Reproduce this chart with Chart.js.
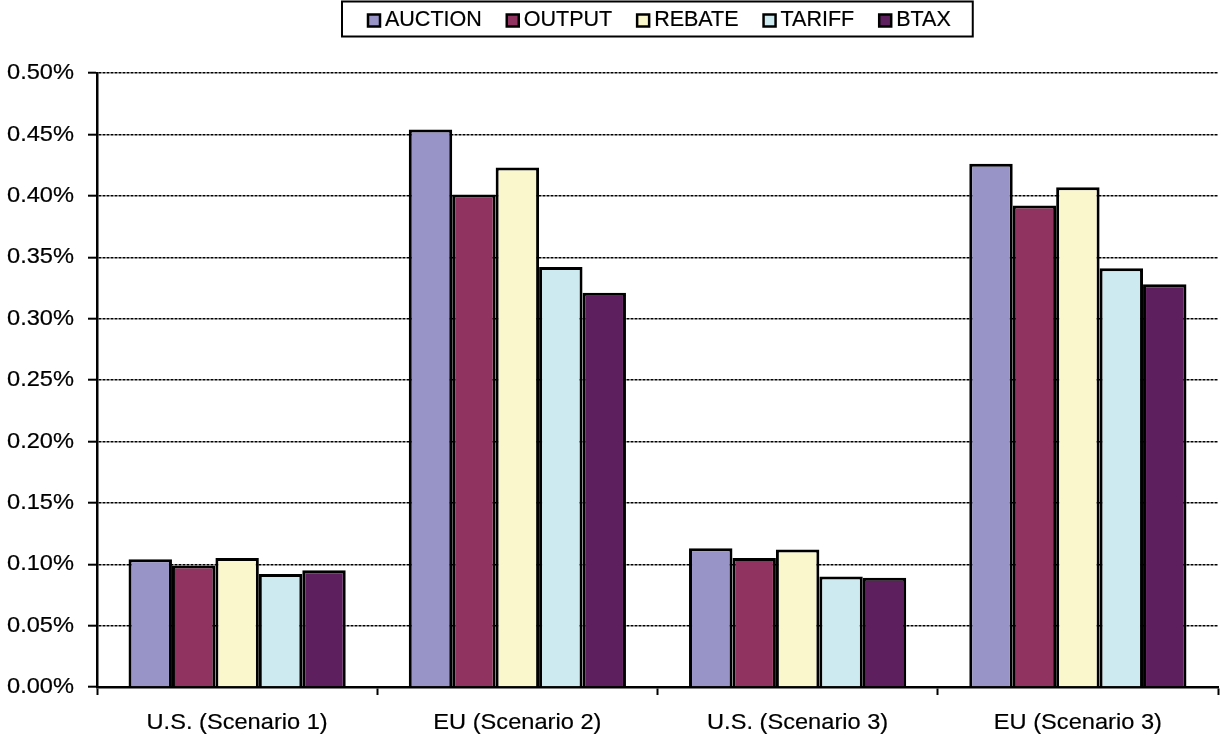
<!DOCTYPE html>
<html>
<head>
<meta charset="utf-8">
<script src="https://cdn.jsdelivr.net/npm/chart.js@4"></script>
<style>
  html, body { margin: 0; padding: 0; background: #fff; }
  #wrap { width: 1221px; height: 735px; position: relative; }
</style>
</head>
<body>
<div id="wrap"><canvas id="c" width="1221" height="735"></canvas></div>
<script>
const categories = ['U.S. (Scenario 1)', 'EU (Scenario 2)', 'U.S. (Scenario 3)', 'EU (Scenario 3)'];
const seriesNames = ['AUCTION', 'OUTPUT', 'REBATE', 'TARIFF', 'BTAX'];
const auction = [0.104, 0.454, 0.113, 0.426];
const output  = [0.099, 0.401, 0.105, 0.392];
const rebate  = [0.105, 0.423, 0.112, 0.407];
const tariff  = [0.092, 0.342, 0.090, 0.341];
const btax    = [0.095, 0.321, 0.089, 0.328];
const colors  = ['#9894C8', '#913360', '#FAF7CC', '#CDEAF0', '#5E1F5E'];
const yTickMin = 0, yTickMax = 0.5, yTickStep = 0.05;

const seriesValues = [auction, output, rebate, tariff, btax];
const FONT = '"Liberation Sans", Arial, sans-serif';
const AXIS_STRETCH = 1.05;

// Slightly wide text like the reference rendering
const canvas = document.getElementById('c');
const ctx0 = canvas.getContext('2d');
const origFill = ctx0.fillText.bind(ctx0);
const origStroke = ctx0.strokeText.bind(ctx0);
const origMeasure = ctx0.measureText.bind(ctx0);
let stretch = AXIS_STRETCH;
ctx0.fillText = function (t, x, y, mw) {
  this.save();
  this.translate(x, y);
  if (stretch !== 1) this.scale(stretch, 1);
  origFill(t, 0, 0);
  this.strokeStyle = this.fillStyle;
  this.lineWidth = 0.2;
  this.setLineDash([]);
  origStroke(t, 0, 0);
  this.restore();
};
ctx0.measureText = function (t) {
  const m = origMeasure(t);
  if (stretch === 1) return m;
  return {
    width: m.width * stretch,
    actualBoundingBoxAscent: m.actualBoundingBoxAscent,
    actualBoundingBoxDescent: m.actualBoundingBoxDescent,
    actualBoundingBoxLeft: m.actualBoundingBoxLeft * stretch,
    actualBoundingBoxRight: m.actualBoundingBoxRight * stretch
  };
};

const legendPlugin = {
  id: 'boxLegend',
  beforeUpdate() { stretch = AXIS_STRETCH; },
  beforeDraw() { stretch = AXIS_STRETCH; },
  afterDraw(chart) {
    const ctx = chart.ctx;
    stretch = 1;
    ctx.save();
    ctx.font = '21.5px ' + FONT;
    const marker = 12, gap = 5, itemGap = 25, padL = 26, padR = 22;
    const items = chart.data.datasets.map(ds => ({
      label: ds.label, color: ds.backgroundColor, w: ctx.measureText(ds.label).width
    }));
    let total = padL + padR;
    items.forEach((it, i) => { total += marker + gap + it.w + (i < items.length - 1 ? itemGap : 0); });
    const ca = chart.chartArea;
    const cx = (ca.left + ca.right) / 2;
    const bx = Math.round(cx - total / 2), by = 1.5, bh = 35;
    ctx.fillStyle = '#fff';
    ctx.fillRect(bx, by, total, bh);
    ctx.lineWidth = 2;
    ctx.strokeStyle = '#000';
    ctx.strokeRect(bx, by, total, bh);
    let x = bx + padL;
    const cy = by + bh / 2 + 1.5;
    items.forEach(it => {
      ctx.fillStyle = it.color;
      ctx.fillRect(x, cy - marker / 2, marker, marker);
      ctx.lineWidth = 2.5;
      ctx.strokeStyle = '#000';
      ctx.strokeRect(x, cy - marker / 2, marker, marker);
      ctx.fillStyle = '#000';
      ctx.textBaseline = 'middle';
      ctx.textAlign = 'left';
      ctx.fillText(it.label, x + marker + gap, cy);
      x += marker + gap + it.w + itemGap;
    });
    ctx.restore();
    stretch = AXIS_STRETCH;
  }
};

new Chart(canvas, {
  type: 'bar',
  data: {
    labels: categories,
    datasets: seriesNames.map((name, i) => ({
      label: name,
      data: seriesValues[i],
      backgroundColor: colors[i],
      borderColor: '#000',
      borderWidth: 3,
      categoryPercentage: 0.775,
      barPercentage: 1.0
    }))
  },
  options: {
    responsive: false,
    animation: false,
    devicePixelRatio: 1,
    layout: { padding: { top: 73, right: 3, left: 0, bottom: 0 } },
    plugins: { legend: { display: false }, tooltip: { enabled: false }, title: { display: false } },
    scales: {
      x: {
        grid: { offset: true, drawOnChartArea: false, drawTicks: true, tickLength: 8, tickColor: '#000', tickWidth: 2 },
        border: { display: true, color: '#000', width: 2.5 },
        ticks: { color: '#000', font: { size: 22.5, family: FONT }, padding: 14, maxRotation: 0 },
        afterFit(scale) { scale.height = 48; }
      },
      y: {
        min: yTickMin,
        max: yTickMax,
        grid: { color: '#000', lineWidth: 1.4, drawTicks: true, tickLength: 9, tickColor: '#000', tickWidth: 2, tickBorderDash: [] },
        border: { display: true, color: '#000', width: 2.5, dash: [3, 1] },
        ticks: {
          stepSize: yTickStep,
          color: '#000',
          font: { size: 22.5, family: FONT },
          padding: 14,
          callback: v => v.toFixed(2) + '%'
        },
        afterFit(scale) { scale.width = 97; }
      }
    }
  },
  plugins: [legendPlugin]
});
</script>
</body>
</html>
